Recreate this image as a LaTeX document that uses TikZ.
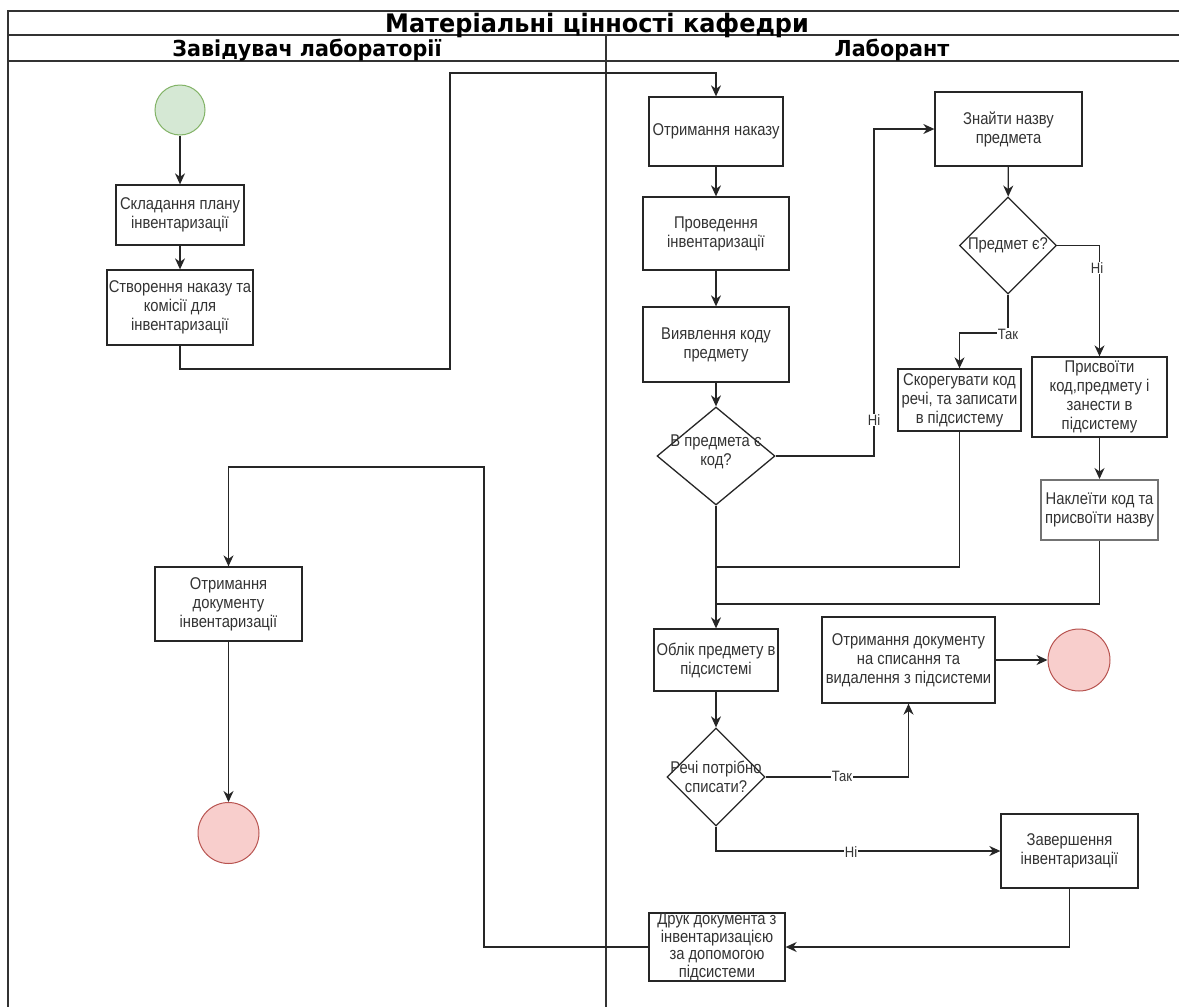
\documentclass[tikz,border=0pt]{standalone}
\usepackage{fontspec}
\setmainfont{Liberation Sans}[FakeStretch=0.87]
\newfontfamily\titlefont{DejaVu Sans}[FakeStretch=0.94]
\usetikzlibrary{shapes.geometric,arrows.meta}
\definecolor{startfill}{HTML}{D5E8D4}
\definecolor{startdraw}{HTML}{82B366}
\definecolor{endfill}{HTML}{F8CECC}
\definecolor{enddraw}{HTML}{B85450}
\definecolor{txtgray}{HTML}{333333}
\tikzset{
  frame/.style={line width=1.3pt, draw=black!80},
  box/.style={draw=black!85, line width=1.3pt, fill=white, rectangle, inner sep=0pt, align=center,
     text=txtgray, font=\fontsize{17}{19}\selectfont},
  dia/.style={draw=black!85, line width=1.3pt, fill=white, diamond, inner sep=0pt},
  dtxt/.style={inner sep=0pt, align=center, text=txtgray, font=\fontsize{17}{19}\selectfont},
  startnode/.style={circle, draw=startdraw, fill=startfill, line width=1pt, inner sep=0pt},
  endnode/.style={circle, draw=enddraw, fill=endfill, line width=1pt, inner sep=0pt},
  arr/.style={line width=1.3pt, draw=black!85, -{Stealth[length=11pt,width=10pt,inset=3.5pt]}},
  ln/.style={line width=1.3pt, draw=black!85},
  lbl/.style={fill=white, inner sep=0.5pt, text=txtgray, font=\fontsize{15}{17}\selectfont},
  hdr/.style={inner sep=0pt, anchor=base, font=\titlefont\bfseries\fontsize{22}{24}\selectfont},
}
\begin{document}
\begin{tikzpicture}[x=1pt,y=-1pt]
\useasboundingbox (0,0) rectangle (1179,1007);
\fill[white] (0,0) rectangle (1179,1007);
% pool frame
\draw[frame] (1179,11) -- (8,11) -- (8,1007);
\draw[frame] (8,35) -- (1179,35);
\draw[frame] (8,61) -- (1179,61);
\draw[frame] (606,35) -- (606,1007);
\node[inner sep=0pt, anchor=base, font=\titlefont\bfseries\fontsize{25.5}{28}\selectfont] (title) at (597,32.5) {Матеріальні цінності кафедри};
\node[hdr] (lane1) at (307,56) {Завідувач лабораторії};
\node[hdr] (lane2) at (892,56) {Лаборант};

% left lane
\node[startnode, minimum size=50pt] (start) at (180,110) {};
\node[box, minimum width=128pt, minimum height=60pt] (b1) at (180,215) {Складання плану\\інвентаризації};
\node[box, minimum width=146pt, minimum height=75pt] (b2) at (180,307.5) {Створення наказу та\\комісії для\\інвентаризації};
\node[box, minimum width=147pt, minimum height=74pt] (b3) at (228.5,604) {Отримання\\документу\\інвентаризації};
\node[endnode, minimum size=61pt] (endL) at (228.5,833) {};

% right lane
\node[box, minimum width=134pt, minimum height=69pt] (r1) at (716,131.5) {Отримання наказу};
\node[box, minimum width=146pt, minimum height=73pt] (r2) at (716,233.5) {Проведення\\інвентаризації};
\node[box, minimum width=146pt, minimum height=75pt] (r3) at (716,344.5) {Виявлення коду\\предмету};
\node[dia, minimum width=118pt, minimum height=98pt] (d1) at (716,456) {};
\node[dtxt] (d1t) at (716,452) {В предмета є\\код?};
\node[box, minimum width=147pt, minimum height=74pt] (r4) at (1008.5,129) {Знайти назву\\предмета};
\node[dia, minimum width=97pt, minimum height=97pt] (d2) at (1008,245.5) {};
\node[dtxt] (d2t) at (1008,245) {Предмет є?};
\node[box, minimum width=123pt, minimum height=62pt] (r5) at (959.5,400) {Скорегувати код\\речі, та записати\\в підсистему};
\node[box, minimum width=135pt, minimum height=80pt] (r6) at (1099.5,397) {Присвоїти\\код,предмету і\\занести в\\підсистему};
\node[box, draw=black!55, line width=2pt, minimum width=117pt, minimum height=60pt] (r7) at (1099.5,510) {Наклеїти код та\\присвоїти назву};
\node[box, minimum width=124pt, minimum height=62pt] (r8) at (716,660) {Облік предмету в\\підсистемі};
\node[dia, minimum width=98pt, minimum height=98pt] (d3) at (716,777) {};
\node[dtxt] (d3t) at (716,777) {Речі потрібно\\списати?};
\node[box, minimum width=173pt, minimum height=86pt] (r9) at (908.5,660) {Отримання документу\\на списання та\\видалення з підсистеми};
\node[endnode, minimum size=62pt] (endR) at (1079,660) {};
\node[box, minimum width=137pt, minimum height=74pt] (r10) at (1069.5,851) {Завершення\\інвентаризації};
\node[box, minimum width=136pt, minimum height=68pt, font=\fontsize{17}{17.6}\selectfont] (r11) at (717,947) {Друк документа з\\інвентаризацією\\за допомогою\\підсистеми};

% helper coordinates
\coordinate (c1) at (450,369);
\coordinate (c2) at (450,73);
\coordinate (c3) at (874,129);
\coordinate (c4) at (1008,333);
\coordinate (j1) at (716,567);
\coordinate (j2) at (716,604);
\coordinate (c5) at (484,467);

% connectors
\draw[arr] (start) -- (b1);
\draw[arr] (b1) -- (b2);
\draw[arr] (b2.south) |- (c1) -- (c2) -| (r1.north);
\draw[arr] (r1) -- (r2);
\draw[arr] (r2) -- (r3);
\draw[arr] (r3) -- (d1);
\draw[arr] (d1.east) -| (c3) -- (r4.west);
\draw[arr] (r4) -- (d2);
\draw[arr] (d2.east) -| (r6.north);
\draw[arr] (d2.south) -- (c4) -| (r5.north);
\draw[arr] (r6) -- (r7);
\draw[arr] (d1.south) -- (r8.north);
\draw[ln] (r5.south) |- (j1);
\draw[ln] (r7.south) |- (j2);
\draw[arr] (r8) -- (d3);
\draw[arr] (d3.east) -| (r9.south);
\draw[arr] (d3.south) |- (r10.west);
\draw[arr] (r9.east) -- (endR.west);
\draw[arr] (r10.south) |- (r11.east);
\draw[arr] (r11.west) -| (c5) -| (b3.north);
\draw[arr] (b3) -- (endL);

% edge labels
\node[lbl] (l1) at (874,420) {Ні};
\node[lbl] (l2) at (1097,268) {Ні};
\node[lbl] (l3) at (1008,334) {Так};
\node[lbl] (l4) at (842,776) {Так};
\node[lbl] (l5) at (851,852) {Ні};
\end{tikzpicture}
\end{document}
